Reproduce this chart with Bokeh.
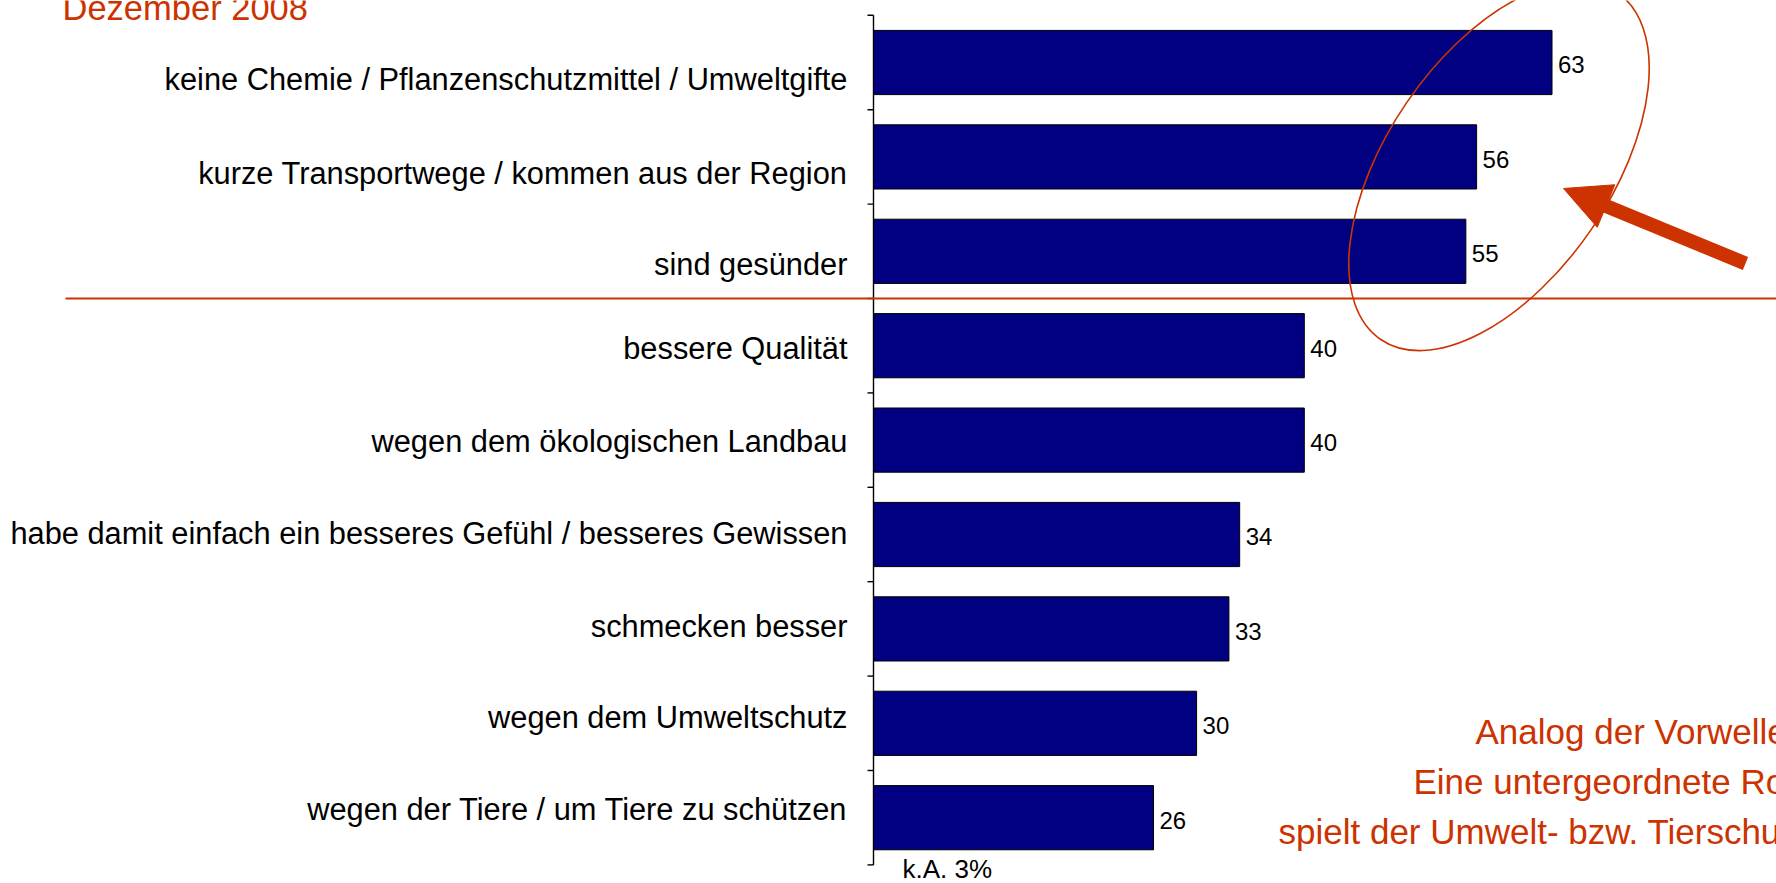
import math
from bokeh.plotting import figure
from bokeh.models import Range1d, Arrow, NormalHead, ColumnDataSource
from bokeh.core.properties import value
from bokeh.embed import file_html
from bokeh.resources import INLINE

# ---------------- data ----------------
categories = [
    "keine Chemie / Pflanzenschutzmittel / Umweltgifte",
    "kurze Transportwege / kommen aus der Region",
    "sind gesünder",
    "bessere Qualität",
    "wegen dem ökologischen Landbau",
    "habe damit einfach ein besseres Gefühl / besseres Gewissen",
    "schmecken besser",
    "wegen dem Umweltschutz",
    "wegen der Tiere / um Tiere zu schützen",
]
values = [63, 56, 55, 40, 40, 34, 33, 30, 26]
no_answer_text = "k.A. 3%"
subtitle_text = "Dezember 2008"
note_lines = [
    "Analog der Vorwelle:",
    "Eine untergeordnete Rolle",
    "spielt der Umwelt- bzw. Tierschutz.",
]

# ---------------- layout (screen pixels) ----------------
W, H = 1776, 883
ZERO_PX = 873          # x pixel of value 0
PX_PER_PCT = 10.77     # pixels per percentage point
ROW0_PX = 62           # y pixel of first bar centre
ROW_PX = 94.4          # row pitch
BAR_H = 0.68
LABEL_BASE_OFF = [28, 27, 24, 13, 12, 9.5, 8.5, 5, 2.5]   # label baseline below bar centre (px)
VALUE_BASE_OFF = 10.6
BASELINE_FIX = 0.345   # renderer places alphabetic baseline this many em lower
RED = "#CC3300"
NAVY = "#000080"
FONT = "Liberation Sans"
LABEL_FS, VALUE_FS, KA_FS, TITLE_FS, NOTE_FS = 30.8, 24, 26, 34.5, 35
NOTE_START_PX = [1475, 1413, 1278]
NOTE_BASE_PX = [743, 793, 843]


def px_x(px):
    return (px - ZERO_PX) / PX_PER_PCT


def px_y(py):
    return (py - ROW0_PX) / ROW_PX


def base_y(py, fs):
    """data y for a text whose alphabetic baseline should sit at pixel py"""
    return px_y(py - BASELINE_FIX * fs)


p = figure(
    width=W, height=H,
    x_range=Range1d(px_x(0), px_x(W)),
    y_range=Range1d(px_y(H), px_y(0)),
    x_axis_type=None, y_axis_type=None,
    output_backend="svg", toolbar_location=None,
    min_border=0,
)
p.outline_line_color = None
p.background_fill_color = "white"
p.border_fill_color = "white"

idx = list(range(len(categories)))
src = ColumnDataSource(dict(
    y=idx,
    value=values,
    value_text=[str(v) for v in values],
    cat=categories,
    label_y=[i + (LABEL_BASE_OFF[i] - BASELINE_FIX * LABEL_FS) / ROW_PX for i in idx],
    value_y=[i + (VALUE_BASE_OFF - BASELINE_FIX * VALUE_FS) / ROW_PX for i in idx],
))

# bars
p.hbar(y="y", left=0, right="value", height=BAR_H, source=src,
       fill_color=NAVY, line_color="black", line_width=1)

# value axis line + category tick marks
n = len(categories)
p.segment(x0=[0], y0=[-0.5], x1=[0], y1=[n - 0.5], line_color="black", line_width=1.4)
tick_y = [k - 0.5 for k in range(n + 1)]
p.segment(x0=[px_x(ZERO_PX - 6)] * len(tick_y), y0=tick_y,
          x1=[0] * len(tick_y), y1=tick_y, line_color="black", line_width=1.4)

# category labels
p.text(x=0, y="label_y", text="cat", source=src, x_offset=-26,
       text_align="right", text_baseline="alphabetic",
       text_font=value(FONT), text_font_size=f"{LABEL_FS}px", text_color="black")

# value labels
p.text(x="value", y="value_y", text="value_text", source=src, x_offset=6,
       text_align="left", text_baseline="alphabetic",
       text_font=value(FONT), text_font_size=f"{VALUE_FS}px", text_color="black")

# k.A.
p.text(x=[px_x(902)], y=[base_y(877, KA_FS)], text=[no_answer_text],
       text_align="left", text_baseline="alphabetic",
       text_font=value(FONT), text_font_size=f"{KA_FS}px", text_color="black")

# subtitle (partly cut off at top)
p.text(x=[px_x(62)], y=[base_y(19, TITLE_FS)], text=[subtitle_text],
       text_align="left", text_baseline="alphabetic",
       text_font=value(FONT), text_font_size=f"{TITLE_FS}px", text_color=RED)

# red separator line between top 3 and the rest
p.segment(x0=[px_x(65)], y0=[2.5], x1=[px_x(W)], y1=[2.5], line_color=RED, line_width=2)

# ellipse highlight
p.ellipse(x=[px_x(1498.5)], y=[px_y(165.5)], width=[420], height=[224],
          width_units="screen", height_units="screen",
          angle=math.radians(55.7), fill_color=None, line_color=RED, line_width=1.6)

# arrow
p.add_layout(Arrow(
    end=NormalHead(size=46, fill_color=RED, line_color=RED, line_width=1),
    x_start=px_x(1745), y_start=px_y(263), x_end=px_x(1563), y_end=px_y(188),
    line_color=RED, line_width=14,
))

# note text (runs past the right page edge, as in the original slide)
p.text(x=[px_x(s) for s in NOTE_START_PX],
       y=[base_y(b, NOTE_FS) for b in NOTE_BASE_PX], text=note_lines,
       text_align="left", text_baseline="alphabetic",
       text_font=value(FONT), text_font_size=f"{NOTE_FS}px", text_color=RED)

open("out.html", "w").write(file_html(p, INLINE))
